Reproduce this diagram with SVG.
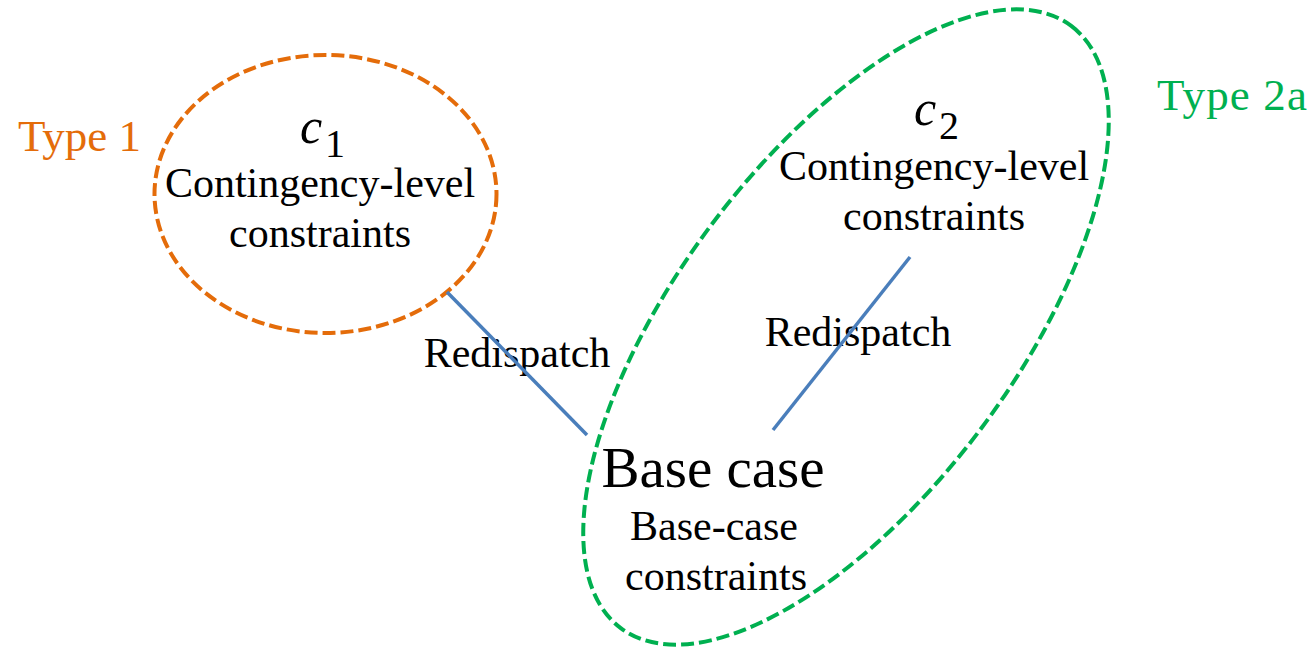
<svg xmlns="http://www.w3.org/2000/svg" width="1315" height="650" viewBox="0 0 1315 650">
  <style>
    text { font-family: "Liberation Serif", "Times New Roman", serif; fill: #000; }
    .lbl { font-size: 42px; text-anchor: middle; }
    .var { font-size: 50px; font-style: italic; }
    .sub { font-size: 40px; }
    .big { font-size: 57px; text-anchor: middle; }
    .tag { font-size: 45px; }
    .region { fill: none; stroke-width: 4; stroke-dasharray: 13 5; }
    .orange { stroke: #E46C0A; }
    .green { stroke: #00B050; }
    .edge { stroke: #4A7EBB; stroke-width: 3.5; fill: none; }
  </style>
  <rect width="1315" height="650" fill="#fff"/>

  <!-- Type 1 region: contingency c1 -->
  <g id="type1">
    <ellipse class="region orange" cx="325.5" cy="194" rx="171" ry="139"/>
    <text class="tag" x="18" y="151" style="fill:#E46C0A">Type 1</text>
  </g>
  <g id="node-c1">
    <text class="var" x="300" y="143">c</text>
    <text class="sub" x="325" y="157">1</text>
    <text class="lbl" x="320" y="197">Contingency-level</text>
    <text class="lbl" x="320" y="247">constraints</text>
  </g>

  <!-- Type 2a region: contingency c2 together with the base case -->
  <g id="type2a">
    <ellipse class="region green" cx="846" cy="327" rx="376" ry="169" transform="rotate(-53.2 846 327)"/>
    <text class="tag" x="1157" y="110" textLength="150" style="fill:#00B050">Type 2a</text>
  </g>
  <g id="node-c2">
    <text class="var" x="914" y="125">c</text>
    <text class="sub" x="939" y="139">2</text>
    <text class="lbl" x="934" y="180">Contingency-level</text>
    <text class="lbl" x="934" y="230">constraints</text>
  </g>
  <g id="node-base">
    <text class="big" x="713" y="487">Base case</text>
    <text class="lbl" x="714" y="540">Base-case</text>
    <text class="lbl" x="716" y="590">constraints</text>
  </g>

  <!-- Redispatch links to the base case -->
  <g id="connectors">
    <text class="lbl" x="517" y="367">Redispatch</text>
    <text class="lbl" x="858" y="346">Redispatch</text>
    <line class="edge" x1="447" y1="292" x2="587" y2="435"/>
    <line class="edge" x1="910" y1="257" x2="773" y2="430"/>
  </g>
</svg>
